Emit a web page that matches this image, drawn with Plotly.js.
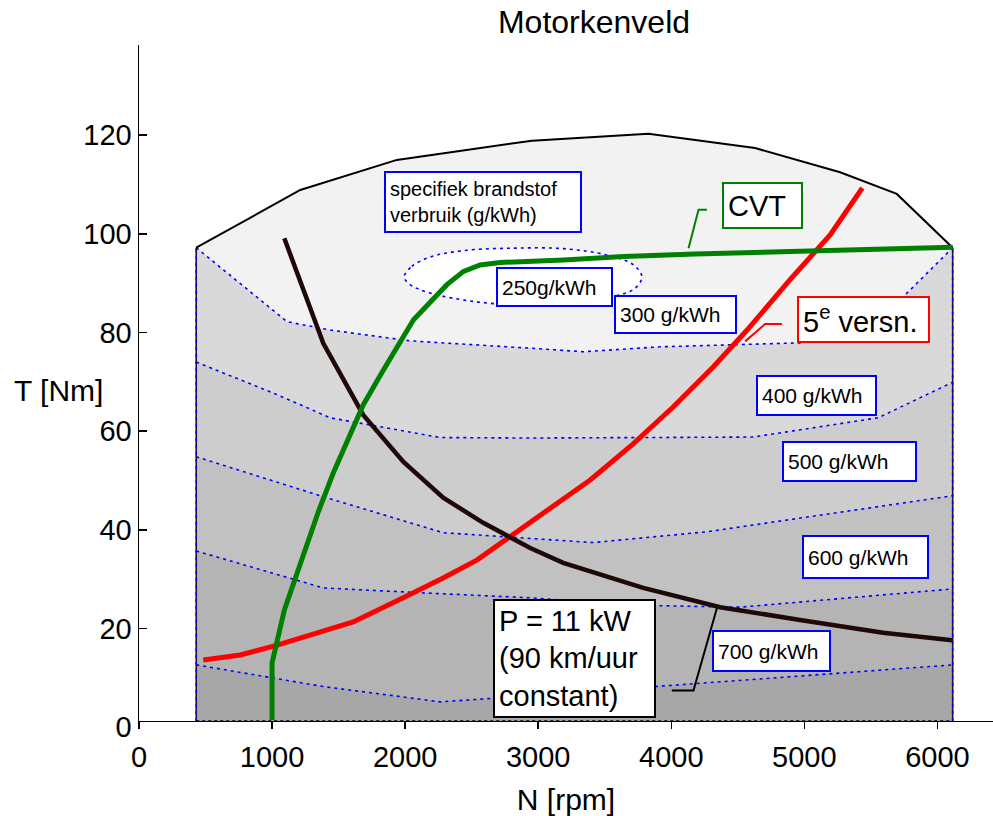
<!DOCTYPE html>
<html>
<head>
<meta charset="utf-8">
<script src="https://cdn.plot.ly/plotly-3.0.1.min.js"></script>
<style>html,body{margin:0;padding:0;background:#fff;}#chart{width:993px;height:816px;}</style>
</head>
<body>
<div id="chart"></div>
<script>
// ---- data (N in rpm, T in Nm) ----
const tFloor = 1.2;
const rpmOuter = [430,1212,1938,2953,3829,4630,5269,5695,6115];
const tOuter   = [97.2,108.9,115.0,118.9,120.3,117.4,112.5,108.1,97.2];

const rpm300 = [430,1112,1437,2038,2953,3338,3917,4968,5494,5772,6115];
const t300   = [97.2,82.2,80.5,78.3,76.8,76.1,77.1,77.9,79.9,88.0,97.2];
const rpm400 = [430,1011,1437,2264,2940,4615,5554,6115];
const t400   = [74.0,67.7,62.7,58.7,58.6,58.8,62.7,69.9];
const rpm500 = [430,1385,2286,3413,4270,6115];
const t500   = [54.8,46.7,39.4,37.4,39.6,46.9];
const rpm600 = [430,1385,2136,2940,3714,4518,6115];
const t600   = [35.7,28.2,27.2,26.2,24.7,24.3,28.0];
const rpm700 = [430,1385,2264,2489,3879,6115];
const t700   = [12.6,8.2,5.1,5.5,8.2,12.6];

const rpm250 = [1993,2051,2189,2439,2814,3190,3516,3716,3779,3729,3566,3216,2865,2514,2189,2038,1993];
const t250   = [91.3,93.4,95.3,96.6,97.1,97.0,95.7,93.7,91.3,89.0,87.3,85.9,85.6,86.3,88.0,89.7,91.3];

const rpmCVT = [1000,1000,1092,1212,1347,1460,1685,1828,2063,2314,2439,2564,2714,3190,3641,4180,4878,5682,6115];
const tCVT   = [1.4,13.0,23.7,33.3,43.6,51.5,65.3,72.0,82.6,89.7,92.4,93.7,94.2,94.7,95.4,95.9,96.3,97.0,97.3];

const rpm5e = [483,761,1039,1339,1610,1986,2286,2542,2940,3391,3714,4014,4315,4570,4893,5194,5436];
const t5e   = [13.6,14.6,16.6,19.1,21.3,26.2,30.2,33.9,41.4,50.1,57.4,64.9,73.0,80.5,90.7,99.8,109.3];

const rpmP = [1092,1385,1685,1986,2286,2587,2940,3188,3789,4368,4968,5592,6110];
const tP   = [99.1,77.8,63.3,53.8,46.5,41.4,36.3,33.3,28.2,24.3,21.7,19.1,17.6];

const leaderCVTrpm = [4130,4205,4268], leaderCVTt = [97.1,104.9,104.9];
const leader5erpm  = [4555,4705,4831], leader5et  = [78.2,81.7,81.7];
const leaderPrpm   = [4343,4167,4004], leaderPt   = [24.1,7.4,7.4];

const xTicks = [0,1000,2000,3000,4000,5000,6000];
const yTicks = [0,20,40,60,80,100,120];

// ---- build traces ----
const FONT = 'Liberation Sans, Arial, Helvetica, sans-serif';
const BLUE = 'rgb(0,0,255)';
const DOT = '3px,4px';
const xL = rpmOuter[0], xR = rpmOuter[rpmOuter.length-1];

function region(xs, ys, color){
  return {x: xs.concat([xR, xL]), y: ys.concat([tFloor, tFloor]), type:'scatter', mode:'lines',
          fill:'toself', fillcolor:color, line:{width:0}, hoverinfo:'skip'};
}
function contour(xs, ys){
  return {x: xs, y: ys, type:'scatter', mode:'lines', line:{color:BLUE, width:1.6, dash:DOT}, hoverinfo:'skip'};
}
const traces = [
  region(rpmOuter, tOuter, '#f2f2f2'),
  region(rpm300, t300, '#d9d9d9'),
  region(rpm400, t400, '#cdcdcd'),
  region(rpm500, t500, '#c1c1c1'),
  region(rpm600, t600, '#b4b4b4'),
  region(rpm700, t700, '#a7a7a7'),
  {x: rpm250, y: t250, type:'scatter', mode:'lines', line:{color:BLUE, width:1.6, dash:DOT, shape:'spline'},
   fill:'toself', fillcolor:'#ffffff', hoverinfo:'skip'},
  contour(rpm300, t300), contour(rpm400, t400), contour(rpm500, t500), contour(rpm600, t600), contour(rpm700, t700),
  {x:[xL,xL,null,xR,xR], y:[tFloor,tOuter[0],null,tFloor,tOuter[tOuter.length-1]], type:'scatter', mode:'lines',
   line:{color:'#2a1010', width:1.6}, hoverinfo:'skip'},
  {x:[xL,xL,null,xR,xR], y:[tFloor,tOuter[0],null,tFloor,tOuter[tOuter.length-1]], type:'scatter', mode:'lines',
   line:{color:BLUE, width:1.6, dash:DOT}, hoverinfo:'skip'},
  {x:[xL,xR], y:[tFloor,tFloor], type:'scatter', mode:'lines', line:{color:'#000', width:1.5, dash:'3px,3px'}, hoverinfo:'skip'},
  {x: rpmOuter, y: tOuter, type:'scatter', mode:'lines', line:{color:'#000', width:2}, hoverinfo:'skip'},
  {x: rpm5e, y: t5e, type:'scatter', mode:'lines', line:{color:'rgb(255,0,0)', width:5}, hoverinfo:'skip'},
  {x: rpmP, y: tP, type:'scatter', mode:'lines', line:{color:'#1e0808', width:4.5}, hoverinfo:'skip'},
  {x: rpmCVT, y: tCVT, type:'scatter', mode:'lines', line:{color:'rgb(0,128,0)', width:5}, hoverinfo:'skip'},
  {x: leaderCVTrpm, y: leaderCVTt, type:'scatter', mode:'lines', line:{color:'rgb(0,128,0)', width:2}, hoverinfo:'skip'},
  {x: leader5erpm, y: leader5et, type:'scatter', mode:'lines', line:{color:'rgb(255,0,0)', width:2}, hoverinfo:'skip'},
  {x: leaderPrpm, y: leaderPt, type:'scatter', mode:'lines', line:{color:'#000', width:2}, hoverinfo:'skip'}
];

function box(text, x, y, w, h, color, size){
  return {text: text, x: x, y: y, xref:'x', yref:'y', xanchor:'center', yanchor:'middle',
          showarrow:false, align:'left', valign:'middle', width: w-10, height: h-10,
          bgcolor:'#ffffff', bordercolor: color, borderwidth:2, borderpad:4,
          font:{family:FONT, size:size, color:'#000'}};
}
const annotations = [
  box('specifiek brandstof<br>verbruik (g/kWh)', 2587, 106.4, 196, 60, BLUE, 20),
  box('CVT', 4685, 105.8, 79, 45, 'rgb(0,128,0)', 29),
  box('250g/kWh', 3122, 89.3, 115, 38, BLUE, 21),
  box('300 g/kWh', 4032, 83.7, 121, 37, BLUE, 21),
  box('5<sup>e</sup> versn.', 5444, 82.6, 131, 45, 'rgb(255,0,0)', 29),
  box('400 g/kWh', 5091, 67.2, 119, 39, BLUE, 21),
  box('500 g/kWh', 5338, 53.8, 133, 39, BLUE, 21),
  box('600 g/kWh', 5457, 34.5, 125, 42, BLUE, 21),
  box('700 g/kWh', 4753, 15.5, 117, 40, BLUE, 21),
  box('P = 11 kW<br>(90 km/uur<br>constant)', 3274, 13.9, 161, 117, '#000', 29),
  {text:'T [Nm]', xref:'paper', yref:'paper', x:-0.0937, y:0.494, xanchor:'center', yanchor:'middle',
   showarrow:false, font:{family:FONT, size:30, color:'#000'}}
];

const layout = {
  width: 993, height: 816,
  margin: {l:139, r:0, t:45, b:89, pad:0},
  paper_bgcolor:'#ffffff', plot_bgcolor:'rgba(0,0,0,0)',
  showlegend:false,
  font:{family:FONT, color:'#000'},
  title:{text:'Motorkenveld', xref:'container', yref:'container', x:594/993, y:1-22/816,
         xanchor:'center', yanchor:'middle', font:{family:FONT, size:32, color:'#000'}},
  xaxis:{range:[0,6418], tickvals:xTicks, ticktext:xTicks.map(String), ticks:'outside', ticklen:7, tickwidth:1.5,
         tickcolor:'#000', showline:true, linecolor:'#000', linewidth:1.5, showgrid:false, zeroline:false,
         anchor:'free', position:0.0092, ticklabelstandoff:3,
         tickfont:{family:FONT, size:29, color:'#000'},
         title:{text:'N [rpm]', font:{family:FONT, size:30, color:'#000'}, standoff:18}},
  yaxis:{range:[0,138.3], tickvals:yTicks, ticktext:yTicks.map(String), ticks:'inside', ticklen:8, tickwidth:1.5,
         tickcolor:'#000', showline:true, linecolor:'#000', linewidth:1.5, showgrid:false, zeroline:false,
         tickfont:{family:FONT, size:29, color:'#000'}},
  annotations: annotations
};

Plotly.newPlot('chart', traces, layout, {staticPlot:true, displayModeBar:false});
</script>
</body>
</html>
